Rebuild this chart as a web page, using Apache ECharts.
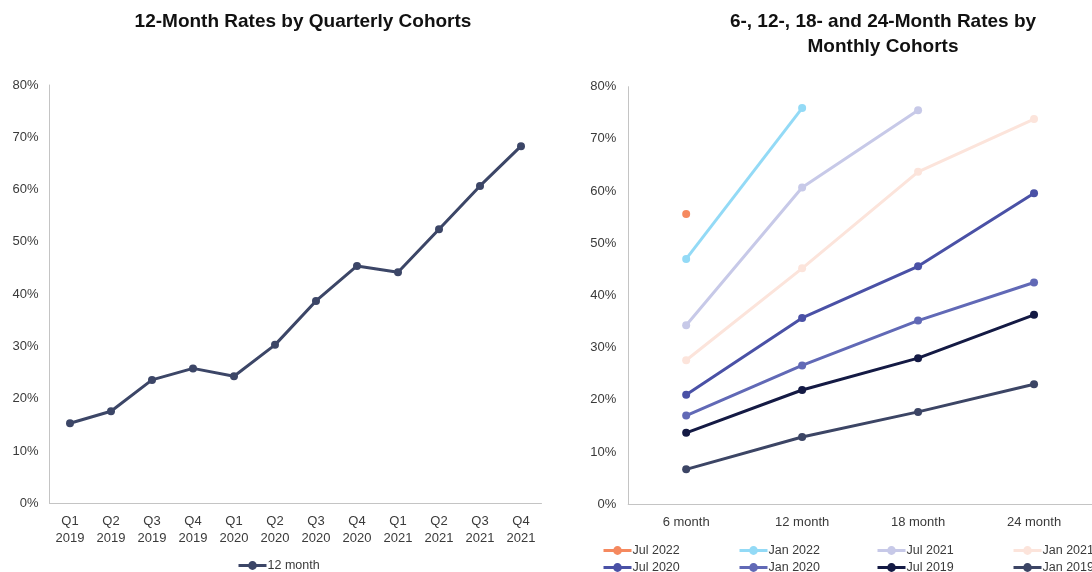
<!DOCTYPE html>
<html>
<head>
<meta charset="utf-8">
<script src="https://cdn.jsdelivr.net/npm/echarts@6/dist/echarts.min.js"></script>
<style>
html,body{margin:0;padding:0;background:#fff;}
#chart{width:1092px;height:572px;}
</style>
</head>
<body>
<div id="chart"></div>
<script>
// ---- Data ----
const quarterCategories = ['Q1\n2019','Q2\n2019','Q3\n2019','Q4\n2019','Q1\n2020','Q2\n2020','Q3\n2020','Q4\n2020','Q1\n2021','Q2\n2021','Q3\n2021','Q4\n2021'];
const quarterlyName = '12 month';
const quarterlyValues = [15.3, 17.6, 23.6, 25.8, 24.3, 30.3, 38.7, 45.4, 44.2, 52.4, 60.7, 68.3];

const monthCategories = ['6 month','12 month','18 month','24 month'];
const cohortNames = ['Jul 2022','Jan 2022','Jul 2021','Jan 2021','Jul 2020','Jan 2020','Jul 2019','Jan 2019'];
const jul2022 = [55.6, null, null, null];
const jan2022 = [47.0, 75.9, null, null];
const jul2021 = [34.3, 60.7, 75.5, null];
const jan2021 = [27.6, 45.2, 63.7, 73.8];
const jul2020 = [21.0, 35.7, 45.6, 59.6];
const jan2020 = [17.0, 26.6, 35.2, 42.5];
const jul2019 = [13.7, 21.9, 28.0, 36.3];
const jan2019 = [6.7, 12.9, 17.7, 23.0];
const cohortValues = [jul2022, jan2022, jul2021, jan2021, jul2020, jan2020, jul2019, jan2019];

const yTicks = {min: 0, max: 80, interval: 10};

// ---- Styles ----
const cohortColors = ['#F5895F','#93DAF6','#C7C9E8','#FCE4DB','#4A51A6','#6169B6','#141A44','#3C4565'];
const leftColor = '#3C4667';
const font = "'Liberation Sans', Arial, sans-serif";
const labelColor = '#3a3a3a';

const chart = echarts.init(document.getElementById('chart'), null, {renderer: 'canvas'});

function yAxis(gridIndex, margin) {
  return {
    type: 'value', gridIndex: gridIndex,
    min: yTicks.min, max: yTicks.max, interval: yTicks.interval,
    axisLine: {show: true, lineStyle: {color: '#c4c4c4', width: 1}},
    axisTick: {show: false},
    splitLine: {show: false},
    axisLabel: {formatter: '{value}%', color: labelColor, fontFamily: font, fontSize: 13, margin: margin}
  };
}

const series = [{
  name: quarterlyName, type: 'line', xAxisIndex: 0, yAxisIndex: 0,
  data: quarterlyValues,
  symbol: 'circle', symbolSize: 8,
  lineStyle: {color: leftColor, width: 3},
  itemStyle: {color: leftColor},
  animation: false
}];
cohortNames.forEach((n, i) => {
  series.push({
    name: n, type: 'line', xAxisIndex: 1, yAxisIndex: 1,
    data: cohortValues[i],
    symbol: 'circle', symbolSize: 8,
    connectNulls: false,
    lineStyle: {color: cohortColors[i], width: 3},
    itemStyle: {color: cohortColors[i]},
    z: 10 - i,
    animation: false
  });
});

const legendCols = [602, 738, 876, 1012];
const legendRows = [544, 561];
const legendCommon = {
  itemWidth: 28, itemHeight: 11, itemGap: 0, padding: 0,
  lineStyle: {width: 3},
  textStyle: {color: labelColor, fontFamily: font, fontSize: 12.5, padding: [0,0,0,-4]}
};
const legends = [Object.assign({data: [quarterlyName], left: 237, top: 559}, legendCommon)];
cohortNames.forEach((n, i) => {
  legends.push(Object.assign({data: [n], left: legendCols[i % 4], top: legendRows[Math.floor(i / 4)]}, legendCommon));
});

chart.setOption({
  backgroundColor: '#fff',
  animation: false,
  title: [
    {text: '12-Month Rates by Quarterly Cohorts', left: 298, top: 7, textAlign: 'center',
     textStyle: {fontFamily: font, fontSize: 19, fontWeight: 'bold', color: '#111'}},
    {text: '6-, 12-, 18- and 24-Month Rates by\nMonthly Cohorts', left: 878, top: 4, textAlign: 'center',
     textStyle: {fontFamily: font, fontSize: 19, fontWeight: 'bold', color: '#111', lineHeight: 25}}
  ],
  legend: legends,
  grid: [
    {left: 49.5, right: 550.5, top: 85, bottom: 68.7, containLabel: false},
    {left: 628.2, right: -4.2, top: 86.7, bottom: 67.7, containLabel: false}
  ],
  xAxis: [
    {type: 'category', gridIndex: 0, data: quarterCategories, boundaryGap: true,
     axisLine: {show: true, lineStyle: {color: '#c4c4c4'}}, axisTick: {show: false},
     axisLabel: {color: labelColor, fontFamily: font, fontSize: 13, lineHeight: 17, margin: 10, interval: 0}},
    {type: 'category', gridIndex: 1, data: monthCategories, boundaryGap: true,
     axisLine: {show: true, lineStyle: {color: '#c4c4c4'}}, axisTick: {show: false},
     axisLabel: {color: labelColor, fontFamily: font, fontSize: 13, margin: 12, interval: 0}}
  ],
  yAxis: [yAxis(0, 11), yAxis(1, 12)],
  series: series
});
</script>
</body>
</html>
